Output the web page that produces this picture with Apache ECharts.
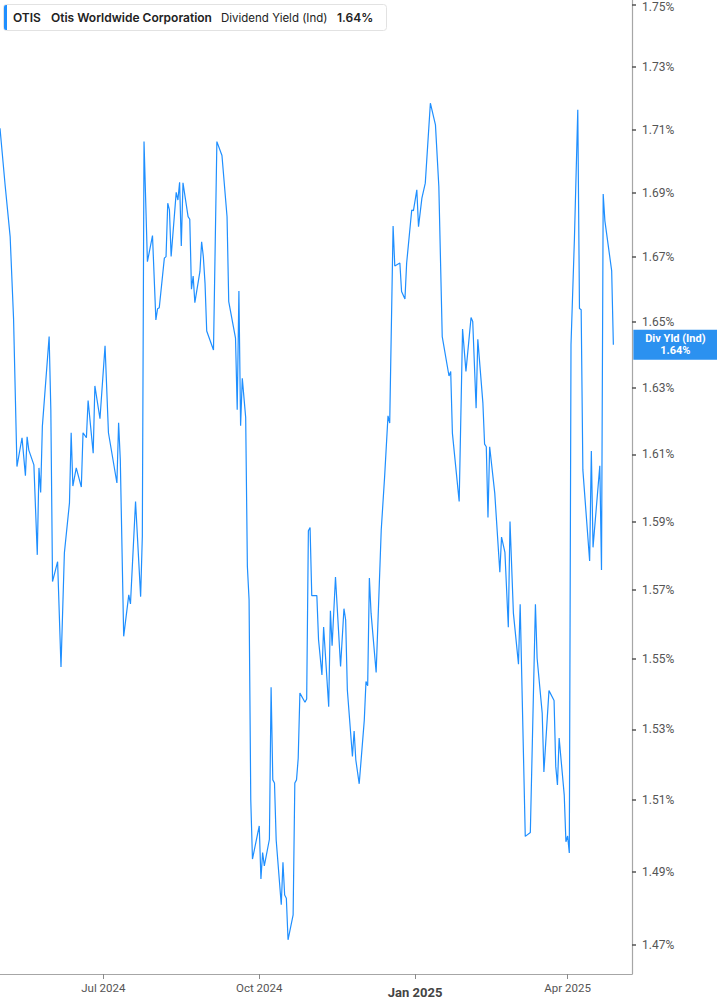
<!DOCTYPE html>
<html><head><meta charset="utf-8">
<script src="https://cdn.jsdelivr.net/npm/echarts@6/dist/echarts.min.js"></script>
<style>html,body{margin:0;padding:0;background:#fff}#c{width:717px;height:1005px}</style>
</head><body><div id="c"></div>
<script>
const dates = [
'2024-05-01','2024-05-04','2024-05-07','2024-05-09','2024-05-11','2024-05-14','2024-05-16','2024-05-17','2024-05-18','2024-05-21',
'2024-05-23','2024-05-24','2024-05-25','2024-05-26','2024-05-30','2024-05-31','2024-06-01','2024-06-04','2024-06-06','2024-06-08',
'2024-06-11','2024-06-12','2024-06-13','2024-06-15','2024-06-18','2024-06-19','2024-06-21','2024-06-22','2024-06-25','2024-06-26',
'2024-06-29','2024-07-02','2024-07-04','2024-07-09','2024-07-10','2024-07-11','2024-07-13','2024-07-16','2024-07-17','2024-07-20',
'2024-07-23','2024-07-24','2024-07-25','2024-07-27','2024-07-30','2024-08-01','2024-08-02','2024-08-03','2024-08-06','2024-08-07',
'2024-08-08','2024-08-09','2024-08-10','2024-08-13','2024-08-14','2024-08-15','2024-08-16','2024-08-17','2024-08-20','2024-08-21',
'2024-08-22','2024-08-23','2024-08-24','2024-08-27','2024-08-28','2024-08-29','2024-08-30','2024-08-31','2024-09-04','2024-09-06',
'2024-09-09','2024-09-12','2024-09-13','2024-09-17','2024-09-18','2024-09-19','2024-09-20','2024-09-21','2024-09-23','2024-09-24',
'2024-09-25','2024-09-26','2024-09-27','2024-10-01','2024-10-02','2024-10-03','2024-10-04','2024-10-07','2024-10-08','2024-10-09',
'2024-10-10','2024-10-11','2024-10-14','2024-10-15','2024-10-16','2024-10-17','2024-10-18','2024-10-21','2024-10-22','2024-10-23',
'2024-10-24','2024-10-25','2024-10-28','2024-10-29','2024-10-30','2024-10-31','2024-11-01','2024-11-04','2024-11-05','2024-11-07',
'2024-11-08','2024-11-11','2024-11-12','2024-11-13','2024-11-15','2024-11-18','2024-11-20','2024-11-21','2024-11-22','2024-11-25',
'2024-11-26','2024-11-27','2024-11-29','2024-12-02','2024-12-03','2024-12-04','2024-12-05','2024-12-06','2024-12-09','2024-12-12',
'2024-12-14','2024-12-16','2024-12-17','2024-12-19','2024-12-20','2024-12-23','2024-12-24','2024-12-26','2024-12-27','2024-12-30',
'2024-12-31','2025-01-02','2025-01-03','2025-01-05','2025-01-07','2025-01-10','2025-01-13','2025-01-15','2025-01-17','2025-01-21',
'2025-01-22','2025-01-23','2025-01-27','2025-01-29','2025-01-31','2025-02-03','2025-02-04','2025-02-06','2025-02-07','2025-02-10',
'2025-02-11','2025-02-12','2025-02-13','2025-02-14','2025-02-17','2025-02-20','2025-02-21','2025-02-23','2025-02-25','2025-02-26',
'2025-02-28','2025-03-03','2025-03-04','2025-03-07','2025-03-10','2025-03-13','2025-03-14','2025-03-17','2025-03-18','2025-03-21',
'2025-03-24','2025-03-25','2025-03-26','2025-03-27','2025-03-30','2025-03-31','2025-04-01','2025-04-02','2025-04-03','2025-04-05',
'2025-04-07','2025-04-08','2025-04-09','2025-04-10','2025-04-14','2025-04-15','2025-04-16','2025-04-20','2025-04-21','2025-04-22',
'2025-04-23','2025-04-27','2025-04-28'
];
const yieldValues = [
1.7104,1.6926,1.6763,1.6511,1.6064,1.6150,1.6037,1.6153,1.6113,1.6069,
1.5803,1.6060,1.5987,1.6184,1.6456,1.6234,1.5725,1.5783,1.5478,1.5809,
1.5956,1.6165,1.6006,1.6060,1.6003,1.6165,1.6150,1.6262,1.6104,1.6306,
1.6207,1.6428,1.6165,1.6015,1.6195,1.6084,1.5566,1.5686,1.5660,1.5960,
1.5681,1.5857,1.7062,1.6686,1.6767,1.6507,1.6541,1.6544,1.6697,1.6702,
1.6868,1.6847,1.6702,1.6902,1.6878,1.6934,1.6735,1.6932,1.6826,1.6818,
1.6601,1.6642,1.6560,1.6656,1.6748,1.6702,1.6620,1.6473,1.6415,1.7062,
1.7018,1.6826,1.6563,1.6451,1.6234,1.6596,1.6186,1.6329,1.6211,1.5769,
1.5672,1.5101,1.4936,1.5028,1.4881,1.4954,1.4917,1.4991,1.5420,1.5157,
1.5148,1.4989,1.4810,1.4927,1.4837,1.4828,1.4714,1.4782,1.5148,1.5157,
1.5218,1.5403,1.5377,1.5386,1.5874,1.5883,1.5684,1.5684,1.5556,1.5455,
1.5593,1.5364,1.5640,1.5539,1.5738,1.5479,1.5646,1.5614,1.5412,1.5223,
1.5295,1.5213,1.5146,1.5326,1.5436,1.5424,1.5735,1.5633,1.5462,1.5876,
1.6034,1.6216,1.6194,1.6797,1.6673,1.6682,1.6594,1.6571,1.6682,1.6847,
1.6845,1.6910,1.6795,1.6884,1.6931,1.7184,1.7115,1.6920,1.6456,1.6336,
1.6350,1.6164,1.5960,1.6479,1.6350,1.6514,1.6502,1.6239,1.6448,1.6254,
1.6131,1.6123,1.5913,1.6123,1.5985,1.5752,1.5855,1.5810,1.5592,1.5901,
1.5633,1.5486,1.5659,1.4999,1.5010,1.5659,1.5503,1.5346,1.5179,1.5410,
1.5382,1.5195,1.5143,1.5275,1.5115,1.4984,1.5000,1.4953,1.6431,1.6754,
1.7163,1.6542,1.6538,1.6054,1.5785,1.6110,1.5825,1.6066,1.5759,1.6897,
1.6813,1.6658,1.6431
];
const yTickValues = [1.47,1.49,1.51,1.53,1.55,1.57,1.59,1.61,1.63,1.65,1.67,1.69,1.71,1.73,1.75];
const xTickDates = ['2024-07-01','2024-10-01','2025-01-01','2025-04-01'];
const xTickLabels = ['Jul 2024','Oct 2024','Jan 2025','Apr 2025'];
const boldTickLabel = 'Jan 2025';
const xRange = ['2024-05-01','2025-05-09'];
const ticker = 'OTIS';
const companyName = 'Otis Worldwide Corporation';
const metricName = 'Dividend Yield (Ind)';
const endLabelName = 'Div Yld (Ind)';

const LINE = '#1f8fff';
const FONT = 'Roboto, "Noto Sans", sans-serif';
const LFONT = 'Inter, Roboto, sans-serif';
const lastVal = yieldValues[yieldValues.length - 1];
const lastText = lastVal.toFixed(2) + '%';
const topTick = yTickValues[yTickValues.length - 1];
function parseDay(s){ const p = s.split('-').map(Number); return new Date(p[0], p[1]-1, p[2]).getTime(); }
const tickTimes = xTickDates.map(parseDay);

const chart = echarts.init(document.getElementById('c'), null, {renderer: 'svg'});
chart.setOption({
  animation: false,
  backgroundColor: '#fff',
  textStyle: {fontFamily: FONT},
  grid: {left: 0, right: 85, top: 0, bottom: 31, containLabel: false, outerBoundsMode: 'none'},
  xAxis: {
    type: 'value',
    min: parseDay(xRange[0]),
    max: parseDay(xRange[1]),
    splitLine: {show: false},
    axisLine: {show: true, lineStyle: {color: '#a6a6a6', width: 1.2}},
    axisTick: {show: true, customValues: tickTimes, length: 5, lineStyle: {color: '#8a8a8a'}},
    axisLabel: {
      customValues: tickTimes,
      margin: 8,
      formatter: function (v) {
        let best = 0, bd = Infinity;
        tickTimes.forEach(function (t, i) { const d = Math.abs(t - v); if (d < bd) { bd = d; best = i; } });
        const lab = xTickLabels[best];
        return lab === boldTickLabel ? '{b|' + lab + '}' : '{a|' + lab + '}';
      },
      rich: {
        a: {fontSize: 11.5, color: '#555', fontFamily: FONT},
        b: {fontSize: 13, fontWeight: 'bold', color: '#444', fontFamily: FONT, padding: [4, 0, 0, 0]}
      }
    }
  },
  yAxis: {
    type: 'log',
    logBase: 10,
    position: 'right',
    min: 1.4621,
    max: 1.7516,
    splitLine: {show: false},
    axisLine: {show: true, lineStyle: {color: '#a6a6a6', width: 1.2}},
    axisTick: {show: true, customValues: yTickValues, length: 4, inside: false, lineStyle: {color: '#555', width: 1.5}},
    axisLabel: {
      customValues: yTickValues,
      margin: 10,
      fontSize: 12,
      lineHeight: 10,
      color: '#555',
      fontFamily: FONT,
      formatter: function (v) {
        const s = Number(v).toFixed(2) + '%';
        return Math.abs(v - topTick) < 1e-6 ? '{top|' + s + '}' : s;
      },
      rich: {
        top: {fontSize: 12, lineHeight: 10, color: '#555', fontFamily: FONT, padding: [4, 0, 0, 0]}
      }
    }
  },
  series: [{
    type: 'line',
    name: endLabelName,
    data: dates.map(function (d, i) { return [parseDay(d), yieldValues[i]]; }),
    showSymbol: false,
    symbol: 'none',
    lineStyle: {color: LINE, width: 1.2},
    itemStyle: {color: LINE},
    endLabel: {
      show: true,
      distance: 20,
      formatter: function () { return '{t|' + endLabelName + '}\n{t|' + lastText + '}'; },
      backgroundColor: '#2b91f0',
      padding: [3, 0, 3, 0],
      rich: {
        t: {width: 84, align: 'center', color: '#fff', fontWeight: 'bold', fontSize: 11, lineHeight: 12, fontFamily: FONT}
      }
    }
  }],
  graphic: [
    {type: 'rect', z: 100, shape: {x: 3.5, y: 4.5, width: 383, height: 26, r: 3}, style: {fill: '#fff', stroke: '#e2e2e2', lineWidth: 1}},
    {type: 'rect', z: 101, shape: {x: 4, y: 5, width: 3, height: 25, r: [2, 0, 0, 2]}, style: {fill: LINE}},
    {type: 'text', z: 102, x: 13, y: 17.5, style: {text: ticker, fill: '#222', font: '600 12px ' + LFONT, textVerticalAlign: 'middle'}},
    {type: 'text', z: 102, x: 51, y: 17.5, style: {text: companyName, fill: '#222', font: '600 12px ' + LFONT, textVerticalAlign: 'middle'}},
    {type: 'text', z: 102, x: 221, y: 17.5, style: {text: metricName, fill: '#222', font: '11.5px ' + LFONT, textVerticalAlign: 'middle'}},
    {type: 'text', z: 102, x: 337, y: 17.5, style: {text: lastText, fill: '#222', font: '600 12px ' + LFONT, textVerticalAlign: 'middle'}}
  ]
});
</script>
</body></html>
